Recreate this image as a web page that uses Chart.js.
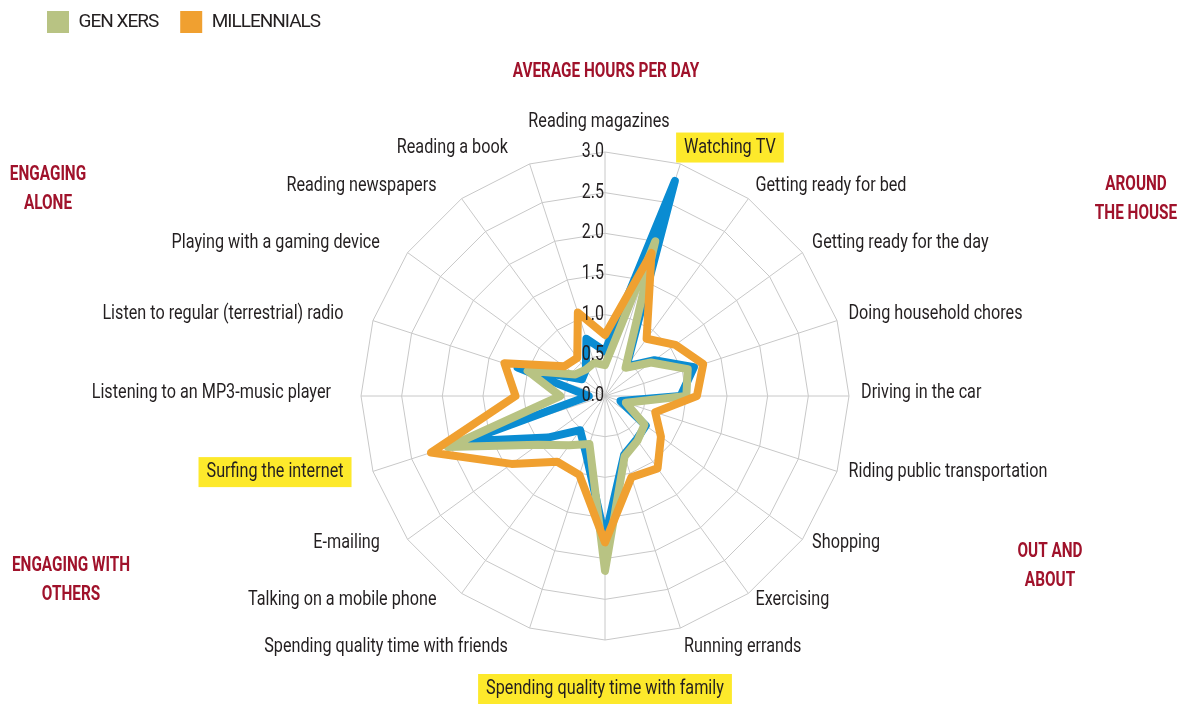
<!DOCTYPE html>
<html>
<head>
<meta charset="utf-8">
<script src="https://cdn.jsdelivr.net/npm/chart.js@4.4.1/dist/chart.umd.min.js"></script>
<style>
  html, body { margin: 0; background: #fff; }
</style>
</head>
<body>
<canvas id="radar" width="1187" height="704"></canvas>
<script>
const categories = [
  'Reading magazines', 'Watching TV', 'Getting ready for bed', 'Getting ready for the day',
  'Doing household chores', 'Driving in the car', 'Riding public transportation', 'Shopping',
  'Exercising', 'Running errands', 'Spending quality time with family',
  'Spending quality time with friends', 'Talking on a mobile phone', 'E-mailing',
  'Surfing the internet', 'Listening to an MP3-music player',
  'Listen to regular (terrestrial) radio', 'Playing with a gaming device',
  'Reading newspapers', 'Reading a book'
];
const genXers     = [0.38, 2.00, 0.43, 0.70, 1.07, 1.00, 0.27, 0.60, 0.68, 0.78, 2.15, 0.62, 0.75, 1.02, 2.03, 0.55, 1.00, 0.45, 0.40, 0.43];
const millennials = [0.75, 1.85, 0.87, 1.07, 1.27, 1.13, 0.65, 0.85, 1.10, 1.05, 1.80, 1.02, 1.00, 1.42, 2.25, 1.10, 1.30, 0.62, 0.58, 1.08];
const boomers     = [0.55, 2.78, 0.45, 0.75, 1.15, 0.93, 0.20, 0.62, 0.66, 0.76, 1.75, 0.75, 0.52, 0.87, 1.80, 0.20, 1.13, 0.35, 0.40, 0.74];
const tickLabels = ['0.0', '0.5', '1.0', '1.5', '2.0', '2.5', '3.0'];
const highlighted = ['Watching TV', 'Surfing the internet', 'Spending quality time with family'];
const chartTitle = 'AVERAGE HOURS PER DAY';
const groupNames = [['ENGAGING', 'ALONE'], ['AROUND', 'THE HOUSE'], ['ENGAGING WITH', 'OTHERS'], ['OUT AND', 'ABOUT']];

const FONT = 'Roboto, sans-serif';
const CX = 605, CY = 396, R = 244;
const RED = '#a0122b';
const INK = '#231f20';

// where the group headings sit
const groupPos = [[48, 175], [1136, 185], [71, 566], [1050, 552]];

// narrow text: the original uses a condensed face
function narrowText(ctx, txt, x, y, align, sx) {
  ctx.save();
  ctx.translate(x, y);
  ctx.scale(sx, 1);
  ctx.textAlign = align;
  ctx.fillText(txt, 0, 0);
  ctx.restore();
}

const textPlugin = {
  id: 'texts',
  // tighter legend lettering (canvas resize resets it, so set it late)
  beforeLayout(chart) { chart.ctx.letterSpacing = '-1px'; },
  beforeDraw(chart) { chart.ctx.letterSpacing = '-1px'; },
  afterDatasetsDraw(chart) {
    const sc = chart.scales.r;
    const ctx = chart.ctx;
    ctx.save();
    ctx.letterSpacing = '0px';
    ctx.font = '20px ' + FONT;
    ctx.fillStyle = INK;
    ctx.textBaseline = 'middle';
    tickLabels.forEach(t => {
      const d = sc.getDistanceFromCenterForValue(parseFloat(t));
      narrowText(ctx, t, sc.xCenter - 1, sc.yCenter - d, 'right', 0.8);
    });
    ctx.restore();
  },
  afterDraw(chart) {
    const sc = chart.scales.r;
    const ctx = chart.ctx;
    const SX = 0.81;
    ctx.save();
    ctx.letterSpacing = '0px';
    ctx.font = '20px ' + FONT;
    ctx.textBaseline = 'middle';
    categories.forEach((lab, i) => {
      const ang = i * 360 / categories.length;
      const p = sc.getPointPosition(i, sc.drawingArea + 12);
      let x = p.x, y = p.y - 3, align;
      if (ang === 0) { align = 'center'; y = p.y - 18; x -= 6; }
      else if (ang === 180) { align = 'center'; y = p.y + 37; }
      else if (ang < 180) align = 'left';
      else { align = 'right'; x -= 18; }
      const c = Math.cos(ang * Math.PI / 180);
      if (ang !== 0 && ang !== 180) {
        if (c > 0.94) y = p.y - 5;
        else if (c < -0.94) y = p.y + 8;
      }
      const w = ctx.measureText(lab).width * SX;
      if (highlighted.includes(lab)) {
        const left = align === 'left' ? x : align === 'right' ? x - w : x - w / 2;
        ctx.fillStyle = '#fde92b';
        ctx.fillRect(left - 8, y - 15, w + 16, 30);
      }
      ctx.fillStyle = INK;
      narrowText(ctx, lab, x, y, align, SX);
    });

    ctx.font = 'bold 21px ' + FONT;
    ctx.fillStyle = RED;
    narrowText(ctx, chartTitle, 606, 72, 'center', 0.73);
    groupNames.forEach((lines, g) => {
      lines.forEach((ln, k) => narrowText(ctx, ln, groupPos[g][0], groupPos[g][1] + k * 29, 'center', 0.73));
    });
    ctx.restore();
  }
};

function series(label, data, color, order) {
  return {
    label, data, order,
    borderColor: color,
    backgroundColor: color,
    borderWidth: 8,
    borderJoinStyle: 'round',
    fill: false,
    tension: 0,
    pointRadius: 0,
    pointHoverRadius: 0
  };
}

new Chart(document.getElementById('radar'), {
  type: 'radar',
  data: {
    labels: categories,
    datasets: [
      series('GEN XERS', genXers, '#b8c383', 1),
      series('MILLENNIALS', millennials, '#f0a030', 0),
      series('BOOMERS', boomers, '#0a8cd2', 2)
    ]
  },
  options: {
    responsive: false,
    animation: false,
    layout: { padding: { top: -11, left: 25, right: 2, bottom: 0 } },
    plugins: {
      tooltip: { enabled: false },
      legend: {
        position: 'top',
        align: 'start',
        labels: {
          boxWidth: 22,
          boxHeight: 22,
          padding: 22,
          color: INK,
          font: { family: FONT, size: 19 },
          filter: item => item.datasetIndex !== 2,
          sort: (a, b) => a.datasetIndex - b.datasetIndex,
          generateLabels: chart =>
            Chart.defaults.plugins.legend.labels.generateLabels(chart).map(it => ({ ...it, lineWidth: 0 }))
        }
      }
    },
    scales: {
      r: {
        min: 0,
        max: 3,
        ticks: { display: false, stepSize: 0.5 },
        grid: { color: '#c8c8c8', lineWidth: 1 },
        angleLines: { color: '#c8c8c8', lineWidth: 1 },
        pointLabels: { display: false },
        afterFit(scale) {
          scale.xCenter = CX;
          scale.yCenter = CY;
          scale.drawingArea = R;
        }
      }
    }
  },
  plugins: [textPlugin]
});
</script>
</body>
</html>
